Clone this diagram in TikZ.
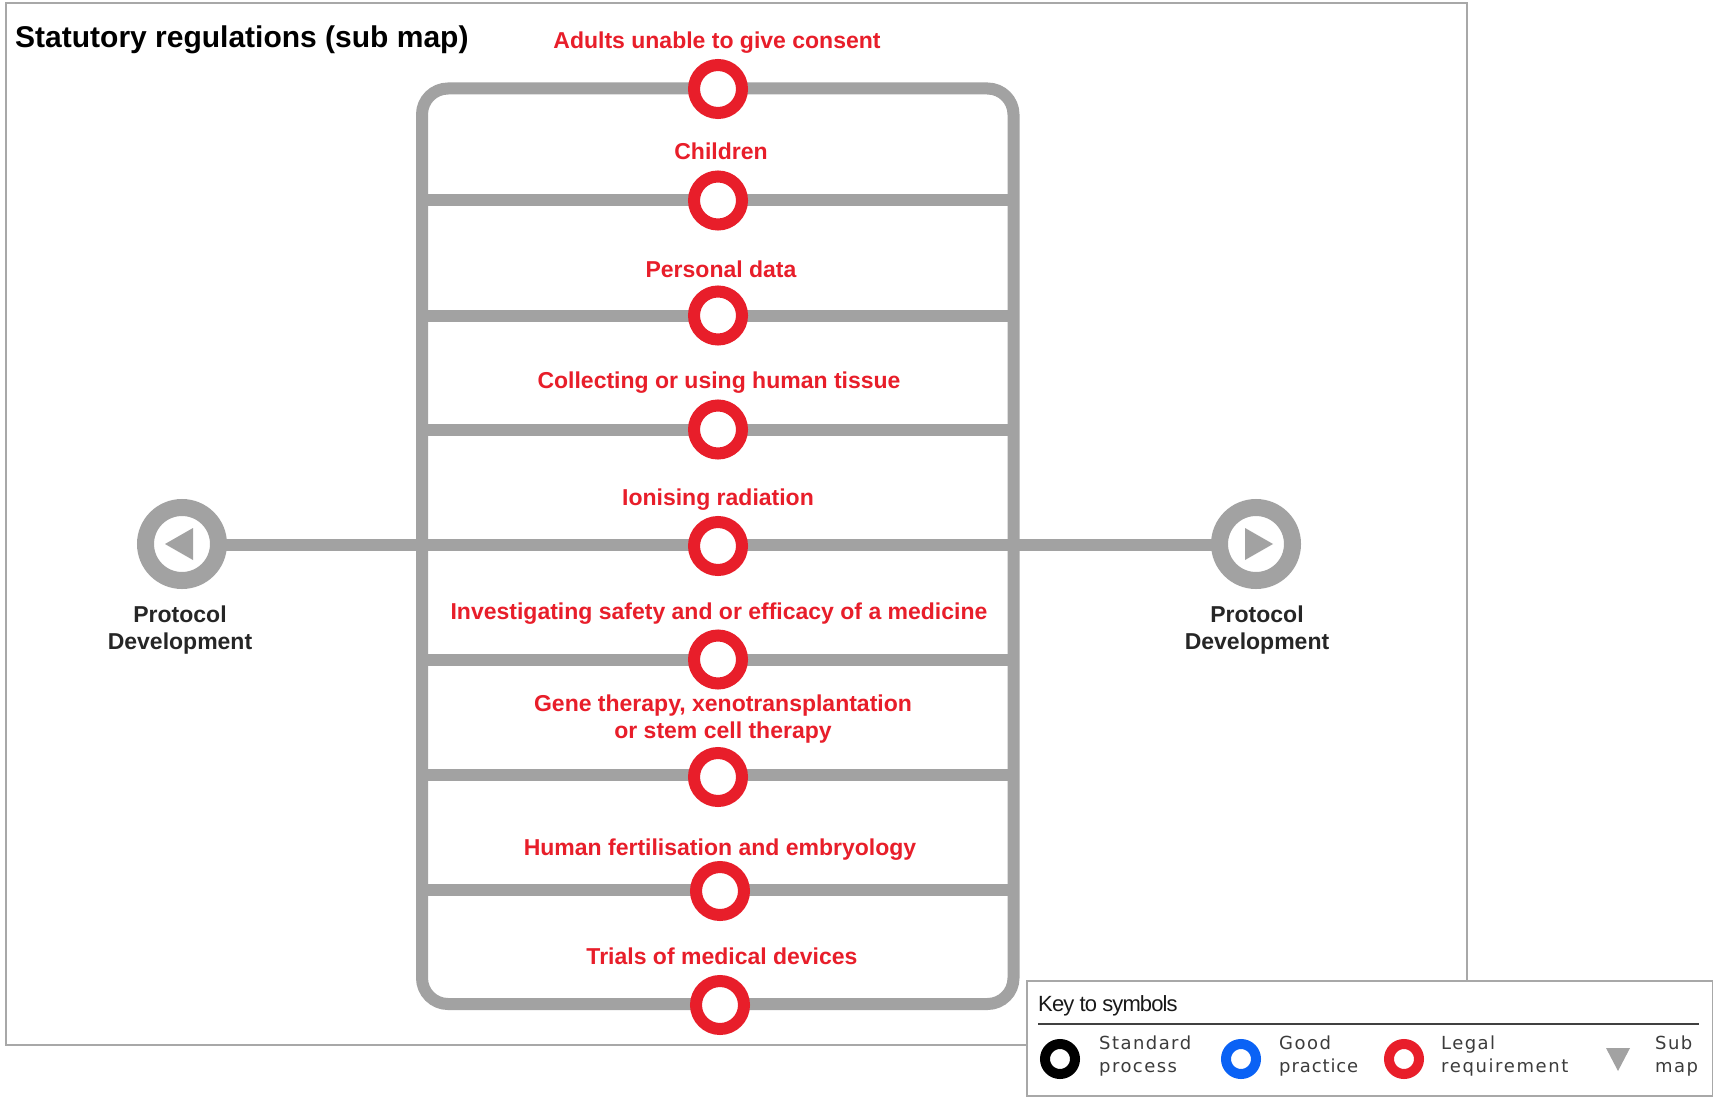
\documentclass[tikz,border=0pt]{standalone}
\usepackage{fontspec}
\setmainfont{Liberation Sans}
\newfontfamily\keyfont[LetterSpace=8]{DejaVu Sans}
\usetikzlibrary{calc}
\definecolor{railc}{HTML}{A2A2A2}
\definecolor{legalc}{HTML}{E81E2A}
\definecolor{goodc}{HTML}{0A62F5}
\definecolor{framec}{HTML}{A8A8A8}
\definecolor{keytxt}{HTML}{3C3C3C}
\tikzset{
  x=1pt,y=-1pt,
  rail/.style={draw=railc,line width=12pt},
  ring/.style={circle,draw=#1,line width=12pt,fill=white,minimum size=48pt,inner sep=0pt,outer sep=0pt},
  bigring/.style={circle,draw=railc,line width=17pt,fill=white,minimum size=73pt,inner sep=0pt,outer sep=0pt},
  keyring/.style={circle,draw=#1,line width=10pt,fill=white,minimum size=30pt,inner sep=0pt,outer sep=0pt},
  lab/.style={text=legalc,font=\fontsize{23}{27.5}\selectfont\bfseries,align=center,inner sep=0pt},
  dev/.style={text=black!85,font=\fontsize{23}{27}\selectfont\bfseries,align=center,inner sep=0pt},
  keytext/.style={text=keytxt,font=\keyfont\fontsize{18}{23}\selectfont,align=left,anchor=west,inner sep=0pt},
  tri/.style={fill=railc,draw=none},
}
\begin{document}
\begin{tikzpicture}
\useasboundingbox (0,0) rectangle (1718,1099);
\fill[white] (0,0) rectangle (1718,1099);
\draw[framec,line width=1.2pt] (6,3) rectangle (1467,1045);
\node[anchor=west,inner sep=0pt,font=\fontsize{30}{34}\selectfont\bfseries] (title) at (15,40) {Statutory regulations (sub map)};

% rails
\coordinate (tl) at (422,88.5);
\coordinate (tr) at (1013.5,88.5);
\coordinate (bl) at (422,1004);
\coordinate (br) at (1013.5,1004);
\draw[rail,rounded corners=26pt] (tl) -- (tr) -- (br) -- (bl) -- cycle;
\foreach \n/\y in {b/200.5,c/315.5,d/429.5,f/659.5,g/774.5,h/889.5}{
  \coordinate (\n l) at (422,\y);
  \coordinate (\n r) at (1013.5,\y);
  \draw[rail] (\n l) -- (\n r);
}
% protocol ends
\node[bigring] (pl) at (182,544) {};
\node[bigring] (pr) at (1256,544) {};
\draw[rail] (pl.east) ++(0,1) coordinate (pla) -- (pr.west |- pla);
\fill[tri] (165,544) -- (193,528) -- (193,560) -- cycle;
\fill[tri] (1273,544) -- (1245,528) -- (1245,560) -- cycle;
\node[dev] (pllab) at (180,630) {Protocol\\Development};
\node[dev] (prlab) at (1257,630) {Protocol\\Development};

% stations
\node[ring=legalc] (a) at (718,89) {};
\node[ring=legalc] (b) at (718,200.5) {};
\node[ring=legalc] (c) at (718,315.5) {};
\node[ring=legalc] (d) at (718,429.5) {};
\node[ring=legalc] (e) at (718,546) {};
\node[ring=legalc] (f) at (718,659.5) {};
\node[ring=legalc] (g) at (718,777) {};
\node[ring=legalc] (h) at (720,891) {};
\node[ring=legalc] (i) at (720,1005) {};

\node[lab] (la) at (717,43) {Adults unable to give consent};
\node[lab] (lb) at (721,151) {Children};
\node[lab] (lc) at (721,269) {Personal data};
\node[lab] (ld) at (719,383) {Collecting or using human tissue};
\node[lab] (le) at (718,500) {Ionising radiation};
\node[lab] (lf) at (719,614) {Investigating safety and or efficacy of a medicine};
\node[lab] (lg) at (723,719) {Gene therapy, xenotransplantation\\or stem cell therapy};
\node[lab] (lh) at (720,850) {Human fertilisation and embryology};
\node[lab] (li) at (722,956) {Trials of medical devices};

% key
\draw[framec,fill=white,line width=1.2pt] (1027,981) rectangle (1712.5,1096);
\node[anchor=west,inner sep=0pt,text=black!90,font=\fontsize{22}{25}\selectfont] (kt) at (1038,1006) {\addfontfeature{LetterSpace=-4}Key to symbols};
\coordinate (kl) at (1038,1024);
\coordinate (kr) at (1699,1024);
\draw[black!75,line width=1.6pt] (kl) -- (kr);
\node[keyring=black] (k1) at (1060,1059) {};
\node[keyring=goodc] (k2) at (1241,1059) {};
\node[keyring=legalc] (k3) at (1404,1059) {};
\fill[tri] (1606,1048) -- (1630,1048) -- (1618,1071) -- cycle;
\node[keytext] (t1) at (1099,1056) {Standard\\process};
\node[keytext] (t2) at (1279,1056) {Good\\{\addfontfeature{LetterSpace=5}practice}};
\node[keytext] (t3) at (1441,1056) {Legal\\{\addfontfeature{LetterSpace=9}requirement}};
\node[keytext] (t4) at (1655,1056) {Sub\\map};
\end{tikzpicture}
\end{document}
